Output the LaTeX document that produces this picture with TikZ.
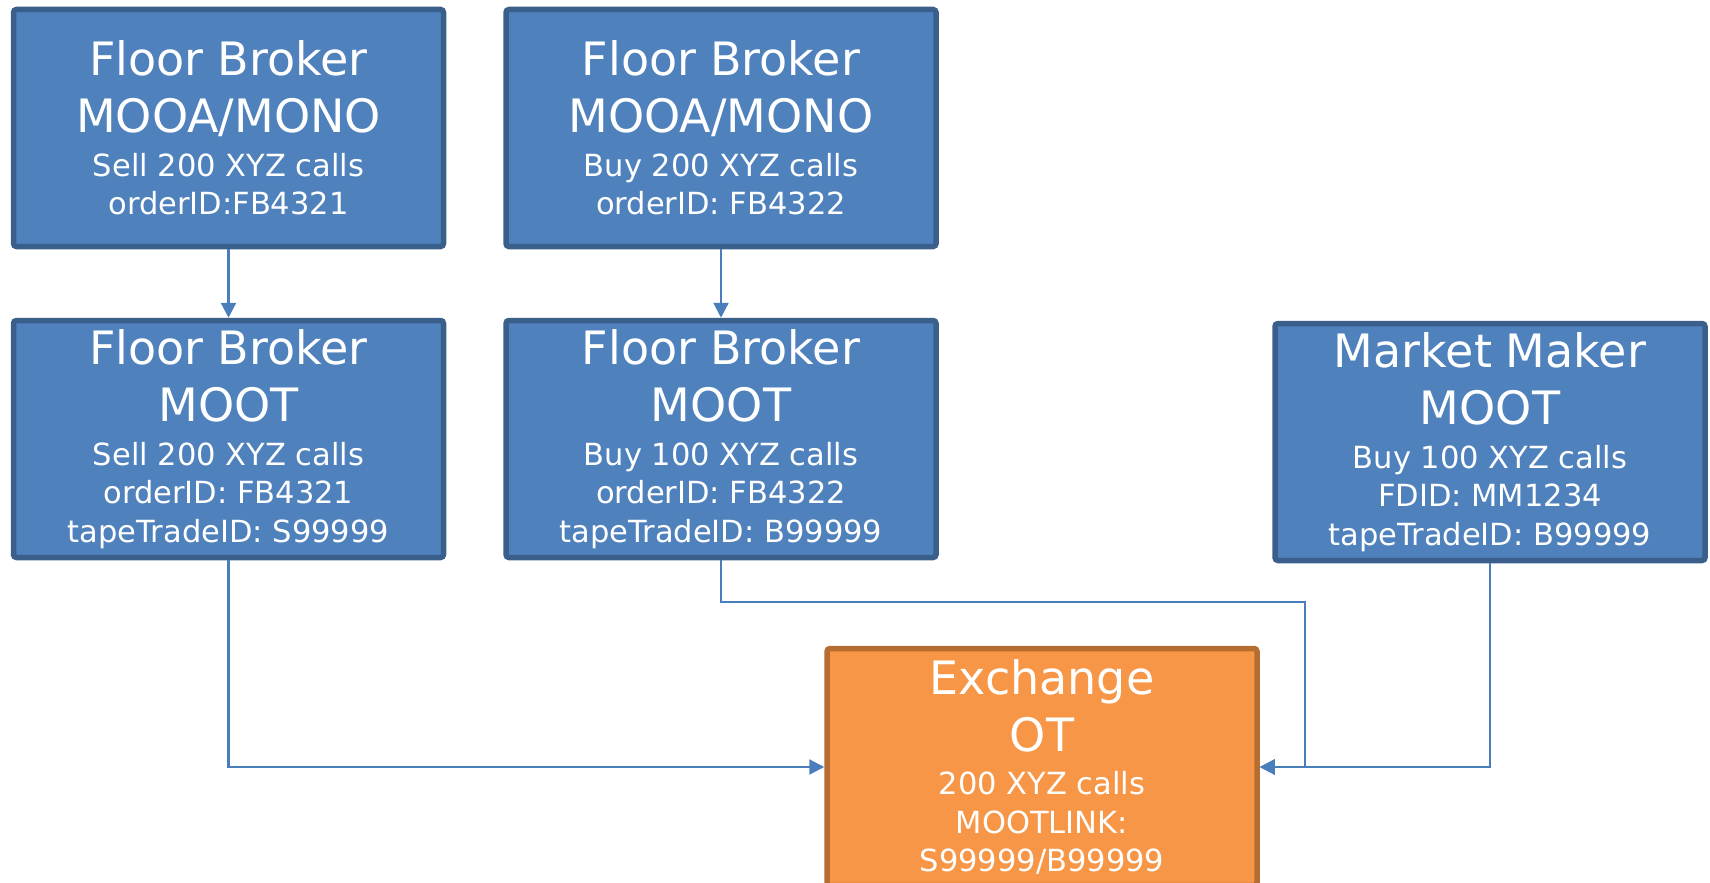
\documentclass[tikz,border=0pt]{standalone}
\usepackage{fontspec}
\setmainfont{DejaVu Sans}
\usetikzlibrary{arrows.meta}
\definecolor{boxblue}{HTML}{4F81BD}
\definecolor{boxblueedge}{HTML}{3A5F8B}
\definecolor{boxorange}{HTML}{F79646}
\definecolor{boxorangeedge}{HTML}{B66D31}
\definecolor{linkblue}{HTML}{4A7EBB}
% two big heading lines, then the smaller detail lines, with fixed word gaps
\newcommand{\boxtext}[3]{%
  {\fontsize{46}{57}\selectfont\spaceskip=14pt\relax #1\\#2\par}\vskip5pt
  {\fontsize{30.5}{38.5}\selectfont\spaceskip=9.7pt\relax #3\par}}
\tikzset{
  party/.style={draw=boxblueedge, fill=boxblue, line width=5.5pt, rounded corners=3pt,
    minimum width=430pt, minimum height=237pt, text width=425pt, align=center,
    inner sep=0pt, text=white},
  market/.style={party, draw=boxorangeedge, fill=boxorange},
  link/.style={draw=linkblue, line width=2.3pt, -{Triangle[width=15pt,length=15pt]}}
}
\begin{document}
\begin{tikzpicture}[x=1pt,y=-1pt]
\useasboundingbox (0,0) rectangle (1710,883);
\clip (0,0) rectangle (1710,883);

\node[party] (sellA) at (228.5,128) {\boxtext{Floor Broker}{MOOA/MONO}{Sell 200 XYZ calls\\orderID:FB4321}};
\node[party] (buyA) at (721,128) {\boxtext{Floor Broker}{MOOA/MONO}{Buy 200 XYZ calls\\orderID: FB4322}};
\node[party] (sellB) at (228.5,439) {\boxtext{Floor Broker}{MOOT}{Sell 200 XYZ calls\\orderID: FB4321\\tapeTradeID: S99999}};
\node[party] (buyB) at (721,439) {\boxtext{Floor Broker}{MOOT}{Buy 100 XYZ calls\\orderID: FB4322\\tapeTradeID: B99999}};
\node[party] (mm) at (1490,442) {\boxtext{Market Maker}{MOOT}{Buy 100 XYZ calls\\FDID: MM1234\\tapeTradeID: B99999}};
\node[market] (ex) at (1042,767) {\boxtext{Exchange}{OT}{200 XYZ calls\\MOOTLINK:\\S99999/B99999}};

\coordinate (turn) at (1305,602);

\draw[link] (sellA) -- (sellB);
\draw[link] (buyA) -- (buyB);
\draw[link] (sellB.south) |- (ex.west);
\draw[link] (buyB.south) |- (turn) |- (ex.east);
\draw[link] (mm.south) |- (ex.east);
\end{tikzpicture}
\end{document}
